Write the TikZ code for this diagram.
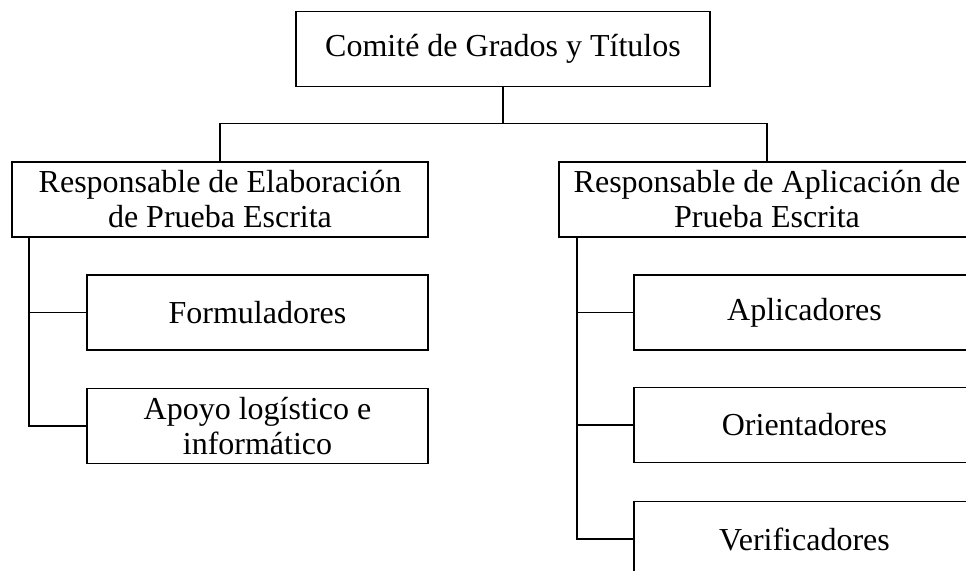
\documentclass[tikz,border=0pt]{standalone}
\usepackage{fontspec}
\setmainfont{Liberation Serif}
\usetikzlibrary{calc}

\begin{document}
\begin{tikzpicture}[x=0.5pt,y=-0.5pt,
    box/.style={draw,line width=0.9pt,align=center,inner sep=0pt,
      minimum height=37.5pt,font=\fontsize{16}{17.5}\selectfont},
    bigbox/.style={box,minimum width=208pt},
    subbox/.style={box,minimum width=170.5pt},
    link/.style={line width=0.6pt},
    spine/.style={line width=0.9pt}]
  \useasboundingbox (0,0) rectangle (966,571);
  \clip (0,0) rectangle (966,571);
  % boxes
  \node[box,minimum width=207pt] (comite) at (503,49) {Comité de Grados y Títulos};
  \node[bigbox] (elab) at (220,199.5) {Responsable de Elaboración\\de Prueba Escrita};
  \node[bigbox] (aplic) at (767,199.5) {Responsable de Aplicación de\\Prueba Escrita};
  \node[subbox] (form) at (257.5,312.5) {Formuladores};
  \node[subbox] (apoyo) at (257.5,426) {Apoyo logístico e\\informático};
  \node[subbox] (aplicad) at (804.5,312.5) {Aplicadores};
  \node[subbox] (orient) at (804.5,425) {Orientadores};
  \node[subbox] (verif) at (804.5,539) {Verificadores};
  % connectors
  \draw[link] (comite.south) -- ++(0,36) coordinate (j);
  \draw[link] (j) -| (elab.north);
  \draw[link] (j) -| (aplic.north);
  \draw[spine] ($(elab.south west)+(18,0)$) |- (form.west);
  \draw[spine] ($(elab.south west)+(18,0)$) |- (apoyo.west);
  \draw[spine] ($(aplic.south west)+(19,0)$) |- (aplicad.west);
  \draw[spine] ($(aplic.south west)+(19,0)$) |- (orient.west);
  \draw[spine] ($(aplic.south west)+(19,0)$) |- (verif.west);
\end{tikzpicture}
\end{document}
